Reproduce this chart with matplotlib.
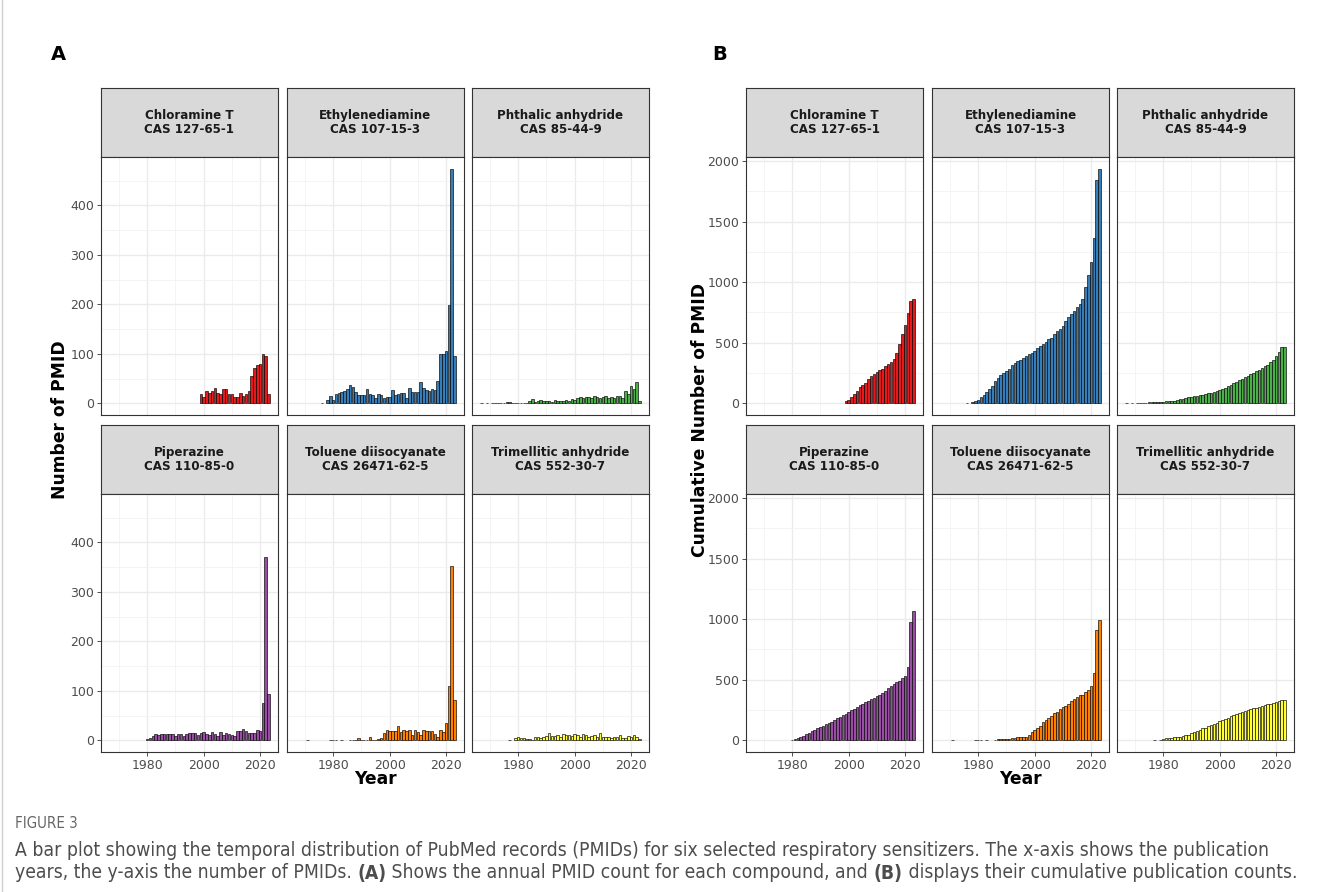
import numpy as np
import matplotlib.pyplot as plt
from matplotlib import font_manager

# ---- data ----
compounds = ["Chloramine T", "Ethylenediamine", "Phthalic anhydride",
             "Piperazine", "Toluene diisocyanate", "Trimellitic anhydride"]
cas_numbers = ["CAS 127-65-1", "CAS 107-15-3", "CAS 85-44-9",
               "CAS 110-85-0", "CAS 26471-62-5", "CAS 552-30-7"]
bar_colors = ["#E41A1C", "#377EB8", "#4DAF4A", "#984EA3", "#FF7F00", "#FFFF33"]

# first year of each series; 0 = no record that year (no bar)
start_years = [1999, 1976, 1967, 1980, 1971, 1977]

chloramine_counts = [18, 12, 25, 21, 25, 30, 20, 18, 29, 28, 18, 18, 12, 12, 20,
                     15, 18, 25, 55, 72, 78, 80, 100, 96, 18]
ethylenediamine_counts = [1, 0, 6, 15, 7,
                          19, 20, 22, 24, 29, 37, 32, 22, 16, 16,
                          17, 29, 19, 16, 11, 19, 16, 11, 12, 12,
                          26, 16, 19, 21, 21, 11, 31, 22, 22, 22,
                          43, 31, 26, 24, 28, 27, 45,
                          100, 100, 106, 198, 474, 96]
phthalic_counts = [1, 0, 1, 0, 1, 1, 1, 1, 1, 2, 2, 1, 1, 1, 1, 1, 1,
                   4, 8, 3, 5, 6, 5, 5, 4, 3, 7, 5, 5, 4, 6, 5, 8,
                   7, 10, 13, 11, 13, 13, 11, 14, 12, 10, 13, 15, 11, 13, 10, 14,
                   15, 11, 25, 18, 34, 28, 42, 4]
piperazine_counts = [2, 5, 8, 12, 11, 12, 12, 13, 12, 13,
                     8, 12, 13, 8, 12, 14, 14, 14, 10, 14,
                     17, 13, 10, 17, 13, 8, 17, 11, 14, 13,
                     11, 8, 18, 19, 22, 18, 15, 15, 14, 20,
                     19, 76, 370, 93]
tdi_counts = [1, 0, 0, 0, 0, 0, 0, 0, 1, 1, 1, 0, 1, 0, 0, 1, 1, 1, 4, 1,
              1, 1, 7, 1, 1, 2, 5,
              15, 20, 19, 18, 18, 29, 16, 20, 18, 20, 11, 20, 16, 11, 21, 18,
              18, 18, 13, 7, 20, 17, 35, 110, 352, 82]
trimellitic_counts = [1, 0, 4, 6, 4, 5, 2, 2, 1,
                      6, 6, 4, 6, 9, 14, 8, 9, 11, 7,
                      13, 10, 10, 8, 12, 10, 7, 13, 10, 7,
                      9, 10, 6, 14, 7, 7, 6, 5, 6, 6,
                      10, 5, 4, 9, 6, 10, 7, 3]

all_counts = [chloramine_counts, ethylenediamine_counts, phthalic_counts,
              piperazine_counts, tdi_counts, trimellitic_counts]

# ---- layout (pixels) ----
W, H = 1320, 892
fig = plt.figure(figsize=(W / 100, H / 100), dpi=100)

col_left_a = [101, 287, 472]
col_left_b = [746, 932, 1117]
panel_w = 177
strip_tops = [88, 425]
strip_h = 69
panel_h = 258


def px_axes(left, top, width, height):
    return fig.add_axes([left / W, 1 - (top + height) / H, width / W, height / H])


def series(i):
    counts = np.array(all_counts[i], dtype=float)
    years = start_years[i] + np.arange(len(counts))
    keep = counts > 0
    return years[keep], counts[keep]


xmin = min(start_years) - 0.5
xmax = 2023.5
xpad = 0.05 * (xmax - xmin)

max_annual = max(max(c) for c in all_counts)
max_cum = max(sum(c) for c in all_counts)


def draw_block(col_lefts, cumulative, ylim, yticks, yminor):
    for i in range(6):
        row, col = divmod(i, 3)
        top = strip_tops[row]
        # strip
        sax = px_axes(col_lefts[col], top, panel_w, strip_h)
        sax.set_facecolor("#D9D9D9")
        sax.set_xticks([])
        sax.set_yticks([])
        for sp in sax.spines.values():
            sp.set_color("#333333")
            sp.set_linewidth(0.8)
        sax.text(0.5, 0.5, f"{compounds[i]}\n{cas_numbers[i]}", ha="center",
                 va="center", fontsize=8.6, fontweight="bold", color="#1A1A1A",
                 linespacing=1.12, transform=sax.transAxes)

        ax = px_axes(col_lefts[col], top + strip_h, panel_w, panel_h)
        years, counts = series(i)
        values = np.cumsum(counts) if cumulative else counts
        ax.bar(years, values, width=0.9, color=bar_colors[i],
               edgecolor="black", linewidth=0.45, zorder=3)

        ax.set_xlim(xmin - xpad, xmax + xpad)
        ax.set_ylim(*ylim)
        ax.set_xticks([1980, 2000, 2020])
        ax.set_xticks([1970, 1990, 2010], minor=True)
        ax.set_yticks(yticks)
        ax.set_yticks(yminor, minor=True)
        ax.grid(True, which="major", color="#EBEBEB", linewidth=1.0, zorder=0)
        ax.grid(True, which="minor", color="#F3F3F3", linewidth=0.6, zorder=0)
        ax.set_axisbelow(True)
        for sp in ax.spines.values():
            sp.set_color("#333333")
            sp.set_linewidth(0.8)
        ax.tick_params(which="minor", length=0)
        ax.tick_params(which="major", length=3, width=0.6, color="#333333",
                       labelsize=9, labelcolor="#4D4D4D", pad=2)
        if row == 0:
            ax.tick_params(axis="x", which="major", length=0, labelbottom=False)
        if col != 0:
            ax.tick_params(axis="y", which="major", length=0, labelleft=False)


draw_block(col_left_a, False, (-0.05 * max_annual, 1.05 * max_annual),
           [0, 100, 200, 300, 400], [50, 150, 250, 350, 450])
draw_block(col_left_b, True, (-0.05 * max_cum, 1.05 * max_cum),
           [0, 500, 1000, 1500, 2000], [250, 750, 1250, 1750])

# axis titles
fig.text(60 / W, 1 - 420 / H, "Number of PMID", rotation=90, ha="center",
         va="center", fontsize=12.3, fontweight="bold", color="black")
fig.text(700 / W, 1 - 420 / H, "Cumulative Number of PMID", rotation=90,
         ha="center", va="center", fontsize=12.3, fontweight="bold", color="black")
fig.text(375 / W, 1 - 779 / H, "Year", ha="center", va="center",
         fontsize=12.3, fontweight="bold", color="black")
fig.text(1020 / W, 1 - 779 / H, "Year", ha="center", va="center",
         fontsize=12.3, fontweight="bold", color="black")

# panel letters
fig.text(58 / W, 1 - 55 / H, "A", ha="center", va="center", fontsize=14,
         fontweight="bold")
fig.text(720 / W, 1 - 55 / H, "B", ha="center", va="center", fontsize=14,
         fontweight="bold")

# caption: prefer a narrow face when one is installed
names = {(f.name, f.stretch) for f in font_manager.fontManager.ttflist}
if any(n == "Liberation Sans Narrow" for n, s in names):
    cap_font, cap_stretch, cap_size = ["Liberation Sans Narrow", "DejaVu Sans"], "normal", 14.6
elif ("DejaVu Sans", "condensed") in names or ("DejaVu Sans", 75) in names:
    cap_font, cap_stretch, cap_size = ["DejaVu Sans"], "condensed", 13.9
else:
    cap_font, cap_stretch, cap_size = ["DejaVu Sans"], "normal", 12.6

fig.text(15 / W, 1 - 824 / H, "FIGURE 3", ha="left", va="center",
         fontsize=cap_size * 0.78, color="#666666", family=cap_font,
         fontstretch=cap_stretch)
fig.text(15 / W, 1 - 850 / H,
         "A bar plot showing the temporal distribution of PubMed records (PMIDs) "
         "for six selected respiratory sensitizers. The x-axis shows the publication",
         ha="left", va="center", fontsize=cap_size, color="#4D4D4D",
         family=cap_font, fontstretch=cap_stretch)

pieces = [("years, the y-axis the number of PMIDs. ", "normal"), ("(A)", "bold"),
          (" Shows the annual PMID count for each compound, and ", "normal"),
          ("(B)", "bold"), (" displays their cumulative publication counts.", "normal")]
renderer = fig.canvas.get_renderer()
x = 15
for txt, weight in pieces:
    t = fig.text(x / W, 1 - 873 / H, txt, ha="left", va="center", fontsize=cap_size,
                 color="#4D4D4D", family=cap_font, fontstretch=cap_stretch,
                 fontweight=weight)
    x += t.get_window_extent(renderer=renderer).width

# thin left border of the figure page
fig.add_artist(plt.Line2D([1.5 / W, 1.5 / W], [0, 1], color="#D0D0D0",
                          linewidth=1.0))

fig.savefig("out.png", dpi=100)
